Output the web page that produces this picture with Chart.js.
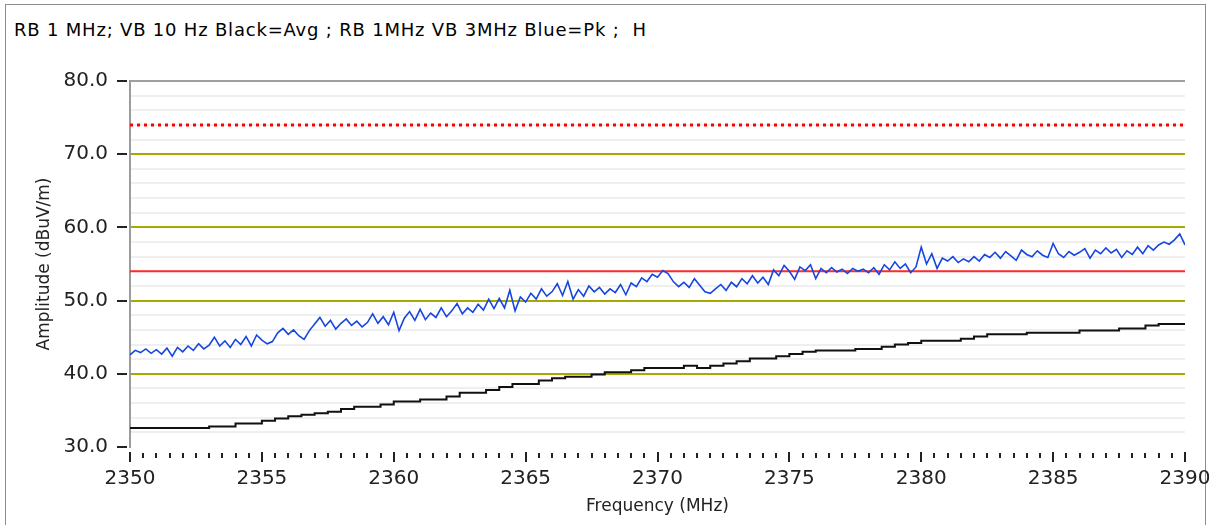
<!DOCTYPE html>
<html>
<head>
<meta charset="utf-8">
<title>Amplitude vs Frequency</title>
<script src="https://cdn.jsdelivr.net/npm/chart.js@4.4.1/dist/chart.umd.min.js"></script>
<style>
  html, body { margin: 0; padding: 0; background: #fff; }
  #wrap { position: relative; width: 1209px; height: 525px; overflow: hidden; }
  #frame {
    position: absolute; left: 5px; top: 4px; width: 1201px; height: 540px;
    border: 1px solid #8c8c8c; box-sizing: border-box;
  }
  #caption {
    position: absolute; left: 14px; top: 19px;
    font: 18px "DejaVu Sans", sans-serif; letter-spacing: 0.8px;
    color: #000; white-space: pre;
  }
  #plot { position: absolute; left: 0; top: 0; }
</style>
</head>
<body>
<div id="wrap">
  <div id="frame"></div>
  <div id="caption">RB 1 MHz; VB 10 Hz Black=Avg ; RB 1MHz VB 3MHz Blue=Pk ;  H</div>
  <canvas id="plot" width="1209" height="525"></canvas>
</div>
<script>
// sweep span (MHz)
const freqStart = 2350;
const freqStop = 2390;

// peak detector trace, one reading every 0.2 MHz
const peakStep = 0.2;
const peakLevels = [
  42.6, 43.2, 42.9, 43.4, 42.8,
  43.3, 42.7, 43.5, 42.4, 43.6,
  43.0, 43.8, 43.2, 44.1, 43.4,
  43.9, 45.0, 43.8, 44.5, 43.6,
  44.7, 44.0, 45.1, 43.8, 45.3,
  44.6, 44.1, 44.4, 45.6, 46.2,
  45.4, 46.0, 45.2, 44.7, 45.9,
  46.8, 47.7, 46.5, 47.3, 46.1,
  46.9, 47.5, 46.6, 47.2, 46.4,
  47.0, 48.2, 46.9, 47.8, 46.7,
  48.4, 45.9, 47.6, 48.5, 47.3,
  48.8, 47.4, 48.3, 47.7, 49.0,
  47.8, 48.6, 49.6, 48.2, 49.0,
  48.4, 49.5, 48.7, 50.2, 48.9,
  50.3, 49.0, 51.4, 48.6, 50.5,
  49.8, 51.0, 50.2, 51.6, 50.6,
  51.2, 52.3, 50.7, 52.6, 50.2,
  51.5, 50.6, 52.0, 51.2, 51.8,
  50.9, 51.6, 51.1, 52.2, 50.8,
  52.4, 51.9, 53.1, 52.6, 53.6,
  53.2, 54.1, 53.7, 52.6, 51.9,
  52.5, 51.8, 53.0, 52.1, 51.2,
  51.0, 51.6, 52.2, 51.4, 52.5,
  51.9, 53.0, 52.3, 53.4, 52.4,
  53.2, 52.2, 54.2, 53.4, 54.8,
  54.0, 52.9, 54.6, 54.1, 54.9,
  53.0, 54.4, 53.8, 54.5, 53.9,
  54.3, 53.7, 54.4, 54.0, 54.3,
  53.8, 54.5, 53.6, 54.9, 54.2,
  55.3, 54.4, 55.0, 53.8, 54.6,
  57.3, 55.0, 56.4, 54.4, 55.8,
  55.4, 56.0, 55.2, 55.7, 55.3,
  56.0, 55.4, 56.3, 55.9, 56.6,
  55.8, 56.7, 56.1, 55.5, 56.9,
  56.3, 56.0, 56.8, 56.2, 55.9,
  57.8, 56.4, 55.9, 56.7, 56.2,
  56.6, 57.1, 55.8, 56.9, 56.4,
  57.2, 56.5, 57.0, 55.9, 56.8,
  56.3, 57.3, 56.4, 57.5, 56.9,
  57.6, 58.0, 57.7, 58.3, 59.1,
  57.6
];

// average detector trace, one reading every 0.5 MHz
const avgStep = 0.5;
const avgLevels = [
  32.6, 32.6, 32.6, 32.6, 32.6, 32.6, 32.8, 32.8, 33.2, 33.2,
  33.6, 33.9, 34.2, 34.4, 34.6, 34.8, 35.2, 35.5, 35.5, 35.8,
  36.2, 36.2, 36.5, 36.5, 36.9, 37.4, 37.4, 37.8, 38.2, 38.6,
  38.6, 39.1, 39.4, 39.6, 39.6, 39.9, 40.2, 40.2, 40.5, 40.8,
  40.8, 40.8, 41.1, 40.8, 41.1, 41.4, 41.7, 42.1, 42.1, 42.4,
  42.7, 43.0, 43.2, 43.2, 43.2, 43.4, 43.4, 43.7, 44.0, 44.2,
  44.5, 44.5, 44.5, 44.8, 45.1, 45.4, 45.4, 45.4, 45.6, 45.6,
  45.6, 45.6, 45.9, 45.9, 45.9, 46.2, 46.2, 46.6, 46.8, 46.8,
  46.9
];

// limit lines (dBuV/m)
const avgLimit = 54;
const peakLimit = 74;

// amplitude axis
const ampMin = 30;
const ampMax = 80;

const olive = '#a8a800';

function toPoints(levels, step) {
  return levels.map((v, i) => ({ x: freqStart + i * step, y: v }));
}

function limitPoints(level) {
  return [{ x: freqStart, y: level }, { x: freqStop, y: level }];
}

const isMultiple = (v, n) => Math.abs(v / n - Math.round(v / n)) < 1e-6;

// short tick marks off the axes, drawn with a small gap like the analyzer plot
const tickMarks = {
  id: 'tickMarks',
  afterDraw(chart) {
    const { ctx, chartArea, scales } = chart;
    const xs = scales.x;
    const ys = scales.y;
    ctx.save();
    ctx.strokeStyle = '#222';
    ctx.lineWidth = 2;
    ctx.beginPath();
    xs.ticks.forEach((t) => {
      const px = Math.round(xs.getPixelForValue(t.value));
      const major = isMultiple(t.value, 5);
      ctx.moveTo(px, chartArea.bottom + (major ? 5 : 6));
      ctx.lineTo(px, chartArea.bottom + (major ? 15 : 11));
    });
    ys.ticks.forEach((t) => {
      if (!isMultiple(t.value, 10)) return;
      const py = Math.round(ys.getPixelForValue(t.value));
      ctx.moveTo(chartArea.left - 13, py);
      ctx.lineTo(chartArea.left - 3, py);
    });
    ctx.stroke();
    ctx.restore();
  }
};

Chart.defaults.font.family = '"DejaVu Sans", sans-serif';
Chart.defaults.color = '#222';

new Chart(document.getElementById('plot'), {
  type: 'line',
  data: {
    datasets: [
      {
        label: 'Pk',
        data: toPoints(peakLevels, peakStep),
        borderColor: '#1646e0',
        borderWidth: 1.6,
        pointRadius: 0,
        tension: 0
      },
      {
        label: 'Avg',
        data: toPoints(avgLevels, avgStep),
        borderColor: '#111',
        borderWidth: 2,
        pointRadius: 0,
        stepped: true
      },
      {
        label: 'Avg limit',
        data: limitPoints(avgLimit),
        borderColor: '#ff2a2a',
        borderWidth: 2,
        pointRadius: 0
      },
      {
        label: 'Pk limit',
        data: limitPoints(peakLimit),
        borderColor: '#ff0000',
        borderWidth: 3,
        borderDash: [3, 4],
        pointRadius: 0
      }
    ]
  },
  options: {
    responsive: false,
    animation: false,
    events: [],
    layout: { padding: { top: 81, right: 24, left: 0, bottom: 0 } },
    plugins: {
      legend: { display: false },
      tooltip: { enabled: false }
    },
    scales: {
      x: {
        type: 'linear',
        min: freqStart,
        max: freqStop,
        afterFit: (s) => {
          s.height = 78;
          s.paddingLeft = 0;
          s.paddingRight = 0;
        },
        grid: { display: false, drawTicks: false },
        border: { display: false },
        ticks: {
          stepSize: 0.5,
          autoSkip: false,
          maxRotation: 0,
          padding: 20,
          font: { size: 20 },
          callback: (v) => (isMultiple(v, 5) ? String(v) : '')
        },
        title: {
          display: true,
          text: 'Frequency (MHz)',
          font: { size: 17 },
          padding: { top: 0, bottom: 8 }
        }
      },
      y: {
        min: ampMin,
        max: ampMax,
        afterFit: (s) => { s.width = 130; },
        border: { display: true, color: '#9c9c9c', width: 2 },
        grid: {
          drawTicks: false,
          color: (c) => {
            const v = c.tick.value;
            if (v === ampMin) return 'rgba(0,0,0,0)';
            if (v === ampMax) return '#a0a0a0';
            if (isMultiple(v, 10)) return olive;
            return '#efefef';
          },
          lineWidth: 2
        },
        ticks: {
          stepSize: 2,
          autoSkip: false,
          padding: 22,
          font: { size: 20 },
          callback: (v) => (isMultiple(v, 10) ? v.toFixed(1) : '')
        },
        title: {
          display: true,
          text: 'Amplitude (dBuV/m)',
          font: { size: 17 },
          padding: { top: 34, bottom: 0 }
        }
      }
    }
  },
  plugins: [tickMarks]
});
</script>
</body>
</html>
